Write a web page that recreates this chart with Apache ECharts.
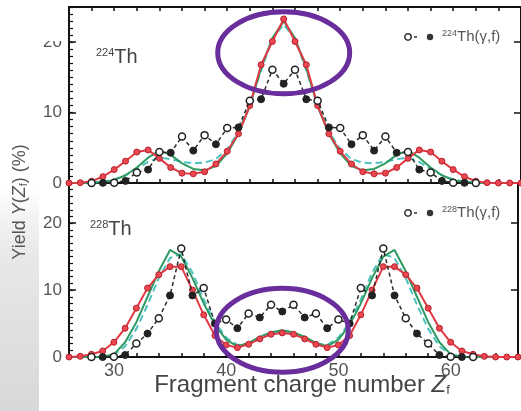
<!DOCTYPE html>
<html>
<head>
<meta charset="utf-8">
<script src="https://cdn.jsdelivr.net/npm/echarts/dist/echarts.min.js"></script>
<style>
  html, body { margin: 0; padding: 0; background: #ffffff; }
  #chart { width: 521px; height: 411px; }
</style>
</head>
<body>
<div id="chart"></div>
<script>
// Fragment charge number Z for the calculated curves and for the measured yields
const zTheory = [26, 27, 28, 29, 30, 31, 32, 33, 34, 35, 36, 37, 38, 39, 40, 41, 42, 43, 44, 45, 46,
                 47, 48, 49, 50, 51, 52, 53, 54, 55, 56, 57, 58, 59, 60, 61, 62, 63, 64, 65, 66];
const zExp = [28, 29, 30, 31, 32, 33, 34, 35, 36, 37, 38, 39, 40, 41, 42, 43, 44, 45,
              46, 47, 48, 49, 50, 51, 52, 53, 54, 55, 56, 57, 58, 59, 60, 61, 62];

// 224Th panel (yield in %)
const th224Red = [0, 0.05, 0.25, 0.9, 1.9, 3.1, 4.4, 4.7, 3.5, 2.2, 1.4, 1.3, 1.6, 2.7, 4.5, 7.0, 11.0, 16.8, 20.1, 23.3, 20.1,
                  16.8, 11.0, 7.0, 4.5, 2.7, 1.6, 1.3, 1.4, 2.2, 3.5, 4.7, 4.4, 3.1, 1.9, 0.9, 0.25, 0.05, 0, 0, 0];
const th224Green = [0, 0, 0.05, 0.15, 0.4, 1.1, 2.2, 3.6, 4.6, 4.0, 2.8, 2.0, 1.8, 2.4, 4.2, 7.0, 10.9, 16.3, 20.6, 23.0, 20.6,
                    16.3, 10.9, 7.0, 4.2, 2.4, 1.8, 2.0, 2.8, 4.0, 4.6, 3.6, 2.2, 1.1, 0.4, 0.15, 0.05, 0, 0, 0, 0];
const th224Teal = [0, 0, 0.05, 0.2, 0.5, 1.1, 2.0, 3.0, 3.6, 3.4, 3.0, 2.8, 2.9, 3.4, 4.8, 7.3, 11.0, 16.0, 20.5, 22.5, 20.5,
                   16.0, 11.0, 7.3, 4.8, 3.4, 2.9, 2.8, 3.0, 3.4, 3.6, 3.0, 2.0, 1.1, 0.5, 0.2, 0.05, 0, 0, 0, 0];
const th224Exp = [0, 0.02, 0.05, 0.3, 1.5, 1.9, 4.4, 4.3, 6.6, 4.6, 6.8, 5.5, 7.8, 7.9, 11.7, 11.9, 16.1, 14.1,
                  16.1, 11.9, 11.7, 7.9, 7.8, 5.5, 6.8, 4.6, 6.6, 4.3, 4.4, 1.9, 1.5, 0.3, 0.05, 0.02, 0];

// 228Th panel (yield in %)
const th228Red = [0, 0.1, 0.4, 0.9, 2.2, 4.3, 7.3, 10.3, 12.3, 13.5, 13.5, 10.0, 6.3, 3.2, 1.8, 1.4, 1.9, 2.7, 3.4, 3.6, 3.4,
                  2.7, 1.9, 1.4, 1.8, 3.2, 6.3, 10.0, 13.5, 13.5, 12.3, 10.3, 7.3, 4.3, 2.2, 0.9, 0.4, 0.1, 0, 0, 0];
const th228Green = [0, 0, 0, 0.05, 0.4, 2.2, 5.2, 9.0, 12.8, 16.0, 15.0, 11.8, 8.0, 4.8, 2.6, 1.6, 2.1, 3.0, 3.7, 4.0, 3.7,
                    3.0, 2.1, 1.6, 2.6, 4.8, 8.0, 11.8, 15.0, 16.0, 12.8, 9.0, 5.2, 2.2, 0.4, 0.05, 0, 0, 0, 0, 0];
const th228Teal = [0, 0, 0, 0.05, 0.3, 1.6, 4.2, 7.8, 11.8, 14.8, 15.4, 12.6, 8.6, 5.2, 2.9, 1.8, 2.0, 2.8, 3.5, 3.8, 3.5,
                   2.8, 2.0, 1.8, 2.9, 5.2, 8.6, 12.6, 15.4, 14.8, 11.8, 7.8, 4.2, 1.6, 0.3, 0.05, 0, 0, 0, 0, 0];
const th228Exp = [0, 0, 0.05, 0.3, 2.0, 3.5, 5.8, 9.2, 16.2, 9.2, 10.3, 5.0, 5.6, 4.3, 6.5, 5.9, 7.8, 6.8,
                  7.8, 5.9, 6.5, 4.3, 5.6, 5.0, 10.3, 9.2, 16.2, 9.2, 5.8, 3.5, 2.0, 0.3, 0.05, 0, 0];

// Tick labels
const xTickLabels = [30, 40, 50, 60];
const yTickLabels = [0, 10, 20];

const FONT = '"Liberation Sans", Arial, Helvetica, sans-serif';
const pairs = (zs, ys) => zs.map((z, i) => [z, ys[i]]);

const chart = echarts.init(document.getElementById('chart'), null, { renderer: 'canvas' });

const PLOT_LEFT = 69;
const PLOT_WIDTH = 458;

function xAxisCfg(gridIndex, position, showLabels) {
  return {
    type: 'value', gridIndex, position, min: 26, max: 66, interval: 2,
    axisLine: { show: true, onZero: false, lineStyle: { color: '#111', width: 2 } },
    axisTick: { show: true, inside: true, length: 4, lineStyle: { color: '#111', width: 1.5 } },
    axisLabel: {
      show: showLabels, margin: 5, fontSize: 18, color: '#555', fontFamily: FONT,
      formatter: v => (xTickLabels.includes(v) ? String(v) : '')
    },
    splitLine: { show: false }
  };
}

function yMajor(gridIndex, max, position, showLabels) {
  return {
    type: 'value', gridIndex, position, min: 0, max, interval: 10,
    axisLine: { show: true, onZero: false, lineStyle: { color: '#111', width: 2 } },
    axisTick: { show: true, inside: true, length: 7, lineStyle: { color: '#111', width: 1.5 } },
    axisLabel: {
      show: showLabels, margin: 7, fontSize: 17, color: '#555', fontFamily: FONT,
      formatter: v => (yTickLabels.includes(v) ? String(v) : '')
    },
    splitLine: { show: false }
  };
}

function yMinor(gridIndex, max) {
  return {
    type: 'value', gridIndex, position: 'left', min: 0, max, interval: 1,
    axisLine: { show: false },
    axisTick: { show: true, inside: true, length: 4, lineStyle: { color: '#111', width: 1.2 } },
    axisLabel: { show: false },
    splitLine: { show: false }
  };
}

function redSeries(x, y, ys) {
  return {
    type: 'line', xAxisIndex: x, yAxisIndex: y, data: pairs(zTheory, ys),
    symbol: 'circle', symbolSize: 6, z: 4,
    lineStyle: { color: '#e23a44', width: 2 },
    itemStyle: { color: '#ec4750', borderColor: '#b3232d', borderWidth: 1 }
  };
}
function greenSeries(x, y, ys) {
  return {
    type: 'line', xAxisIndex: x, yAxisIndex: y, data: pairs(zTheory, ys),
    showSymbol: false, z: 3,
    lineStyle: { color: '#2f9a62', width: 2 }
  };
}
function tealSeries(x, y, ys) {
  return {
    type: 'line', xAxisIndex: x, yAxisIndex: y, data: pairs(zTheory, ys),
    showSymbol: false, z: 3,
    lineStyle: { color: '#4fc2be', width: 2, type: [7, 4] }
  };
}
function expSeries(x, y, ys) {
  return {
    type: 'line', xAxisIndex: x, yAxisIndex: y, z: 5,
    data: pairs(zExp, ys).map(p => ({
      value: p,
      itemStyle: p[0] % 2 === 0
        ? { color: '#ffffff', borderColor: '#222', borderWidth: 1.5 }
        : { color: '#222', borderColor: '#222', borderWidth: 1 }
    })),
    symbol: 'circle', symbolSize: 7,
    lineStyle: { color: '#2a2a2a', width: 1.5, type: [4, 3] }
  };
}

const option = {
  animation: false,
  backgroundColor: '#ffffff',
  grid: [
    { left: PLOT_LEFT, top: 7, width: PLOT_WIDTH, height: 176 },
    { left: PLOT_LEFT, top: 183, width: PLOT_WIDTH, height: 174 }
  ],
  xAxis: [
    xAxisCfg(0, 'bottom', false),
    xAxisCfg(0, 'top', false),
    xAxisCfg(1, 'bottom', true)
  ],
  yAxis: [
    yMajor(0, 25, 'left', true),
    yMinor(0, 25),
    yMajor(0, 25, 'right', false),
    yMajor(1, 26, 'left', true),
    yMinor(1, 26),
    yMajor(1, 26, 'right', false)
  ],
  series: [
    tealSeries(0, 0, th224Teal),
    greenSeries(0, 0, th224Green),
    redSeries(0, 0, th224Red),
    expSeries(0, 0, th224Exp),
    tealSeries(2, 3, th228Teal),
    greenSeries(2, 3, th228Green),
    redSeries(2, 3, th228Red),
    expSeries(2, 3, th228Exp)
  ]
};

chart.setOption(option);

// Decorations: titles, panel labels, legend keys and highlight ellipses
const topCenter = chart.convertToPixel({ gridIndex: 0 }, [45, 18.5]);
const botCenter = chart.convertToPixel({ gridIndex: 1 }, [45, 4.0]);

function legendKey(x, y, nucleus) {
  return {
    type: 'group', x, y, silent: true,
    children: [
      { type: 'line', shape: { x1: 4, y1: 0, x2: 14, y2: 0 }, style: { stroke: '#333', lineWidth: 1.5, lineDash: [3, 2] } },
      { type: 'circle', shape: { cx: 3, cy: 0, r: 3.2 }, style: { fill: '#fff', stroke: '#333', lineWidth: 1.5 } },
      { type: 'circle', shape: { cx: 25, cy: 0, r: 3.2 }, style: { fill: '#333' } },
      {
        type: 'text', x: 37, y: 0,
        style: {
          text: '{sup|' + nucleus + '}{m|Th(γ,f)}',
          verticalAlign: 'middle', align: 'left',
          rich: {
            sup: { fontSize: 9, fontFamily: FONT, fill: '#555', verticalAlign: 'top' },
            m: { fontSize: 15, fontFamily: FONT, fill: '#555' }
          }
        }
      }
    ]
  };
}

function panelLabel(x, y, nucleus) {
  return {
    type: 'text', x, y, silent: true,
    style: {
      text: '{sup|' + nucleus + '}{m|Th}',
      verticalAlign: 'middle', align: 'left',
      rich: {
        sup: { fontSize: 11, fontFamily: FONT, fill: '#444', verticalAlign: 'top' },
        m: { fontSize: 20, fontFamily: FONT, fill: '#444' }
      }
    }
  };
}

chart.setOption({
  graphic: [
    {
      type: 'rect', silent: true, z: -10,
      shape: { x: 0, y: 190, width: 39, height: 221 },
      style: {
        fill: new echarts.graphic.LinearGradient(0, 0, 0, 1, [
          { offset: 0, color: 'rgba(225,225,225,0)' },
          { offset: 0.3, color: '#e8e8e8' },
          { offset: 1, color: '#d8d8d8' }
        ])
      }
    },
    {
      type: 'rect', silent: true, z: 100,
      shape: { x: 28, y: 0, width: 38, height: 41 },
      style: { fill: '#ffffff' }
    },
    {
      type: 'text', x: 20, y: 202, rotation: Math.PI / 2, silent: true,
      style: {
        text: 'Yield {i|Y}(' + '{i|Z}{s|f}) (%)',
        align: 'center', verticalAlign: 'middle',
        fontSize: 18, fontFamily: FONT, fill: '#555',
        rich: {
          i: { fontSize: 18, fontFamily: FONT, fontStyle: 'italic', fill: '#555' },
          s: { fontSize: 11, fontFamily: FONT, fill: '#555', verticalAlign: 'bottom' }
        }
      }
    },
    {
      type: 'text', x: 302, y: 385, silent: true,
      style: {
        text: 'Fragment charge number {i|Z}{s|f}',
        align: 'center', verticalAlign: 'middle',
        fontSize: 24, fontFamily: FONT, fill: '#444',
        rich: {
          i: { fontSize: 24, fontFamily: FONT, fontStyle: 'italic', fill: '#444' },
          s: { fontSize: 13, fontFamily: FONT, fill: '#444', verticalAlign: 'bottom' }
        }
      }
    },
    panelLabel(96, 57, '224'),
    panelLabel(90, 229, '228'),
    legendKey(405, 37, '224'),
    legendKey(405, 213, '228'),
    {
      type: 'ellipse', silent: true, z: 50,
      shape: { cx: topCenter[0], cy: topCenter[1], rx: 66, ry: 41 },
      style: { fill: 'none', stroke: '#6a2d9c', lineWidth: 5 }
    },
    {
      type: 'ellipse', silent: true, z: 50,
      shape: { cx: botCenter[0], cy: botCenter[1], rx: 66, ry: 42 },
      style: { fill: 'none', stroke: '#6a2d9c', lineWidth: 5 }
    }
  ]
});
</script>
</body>
</html>
